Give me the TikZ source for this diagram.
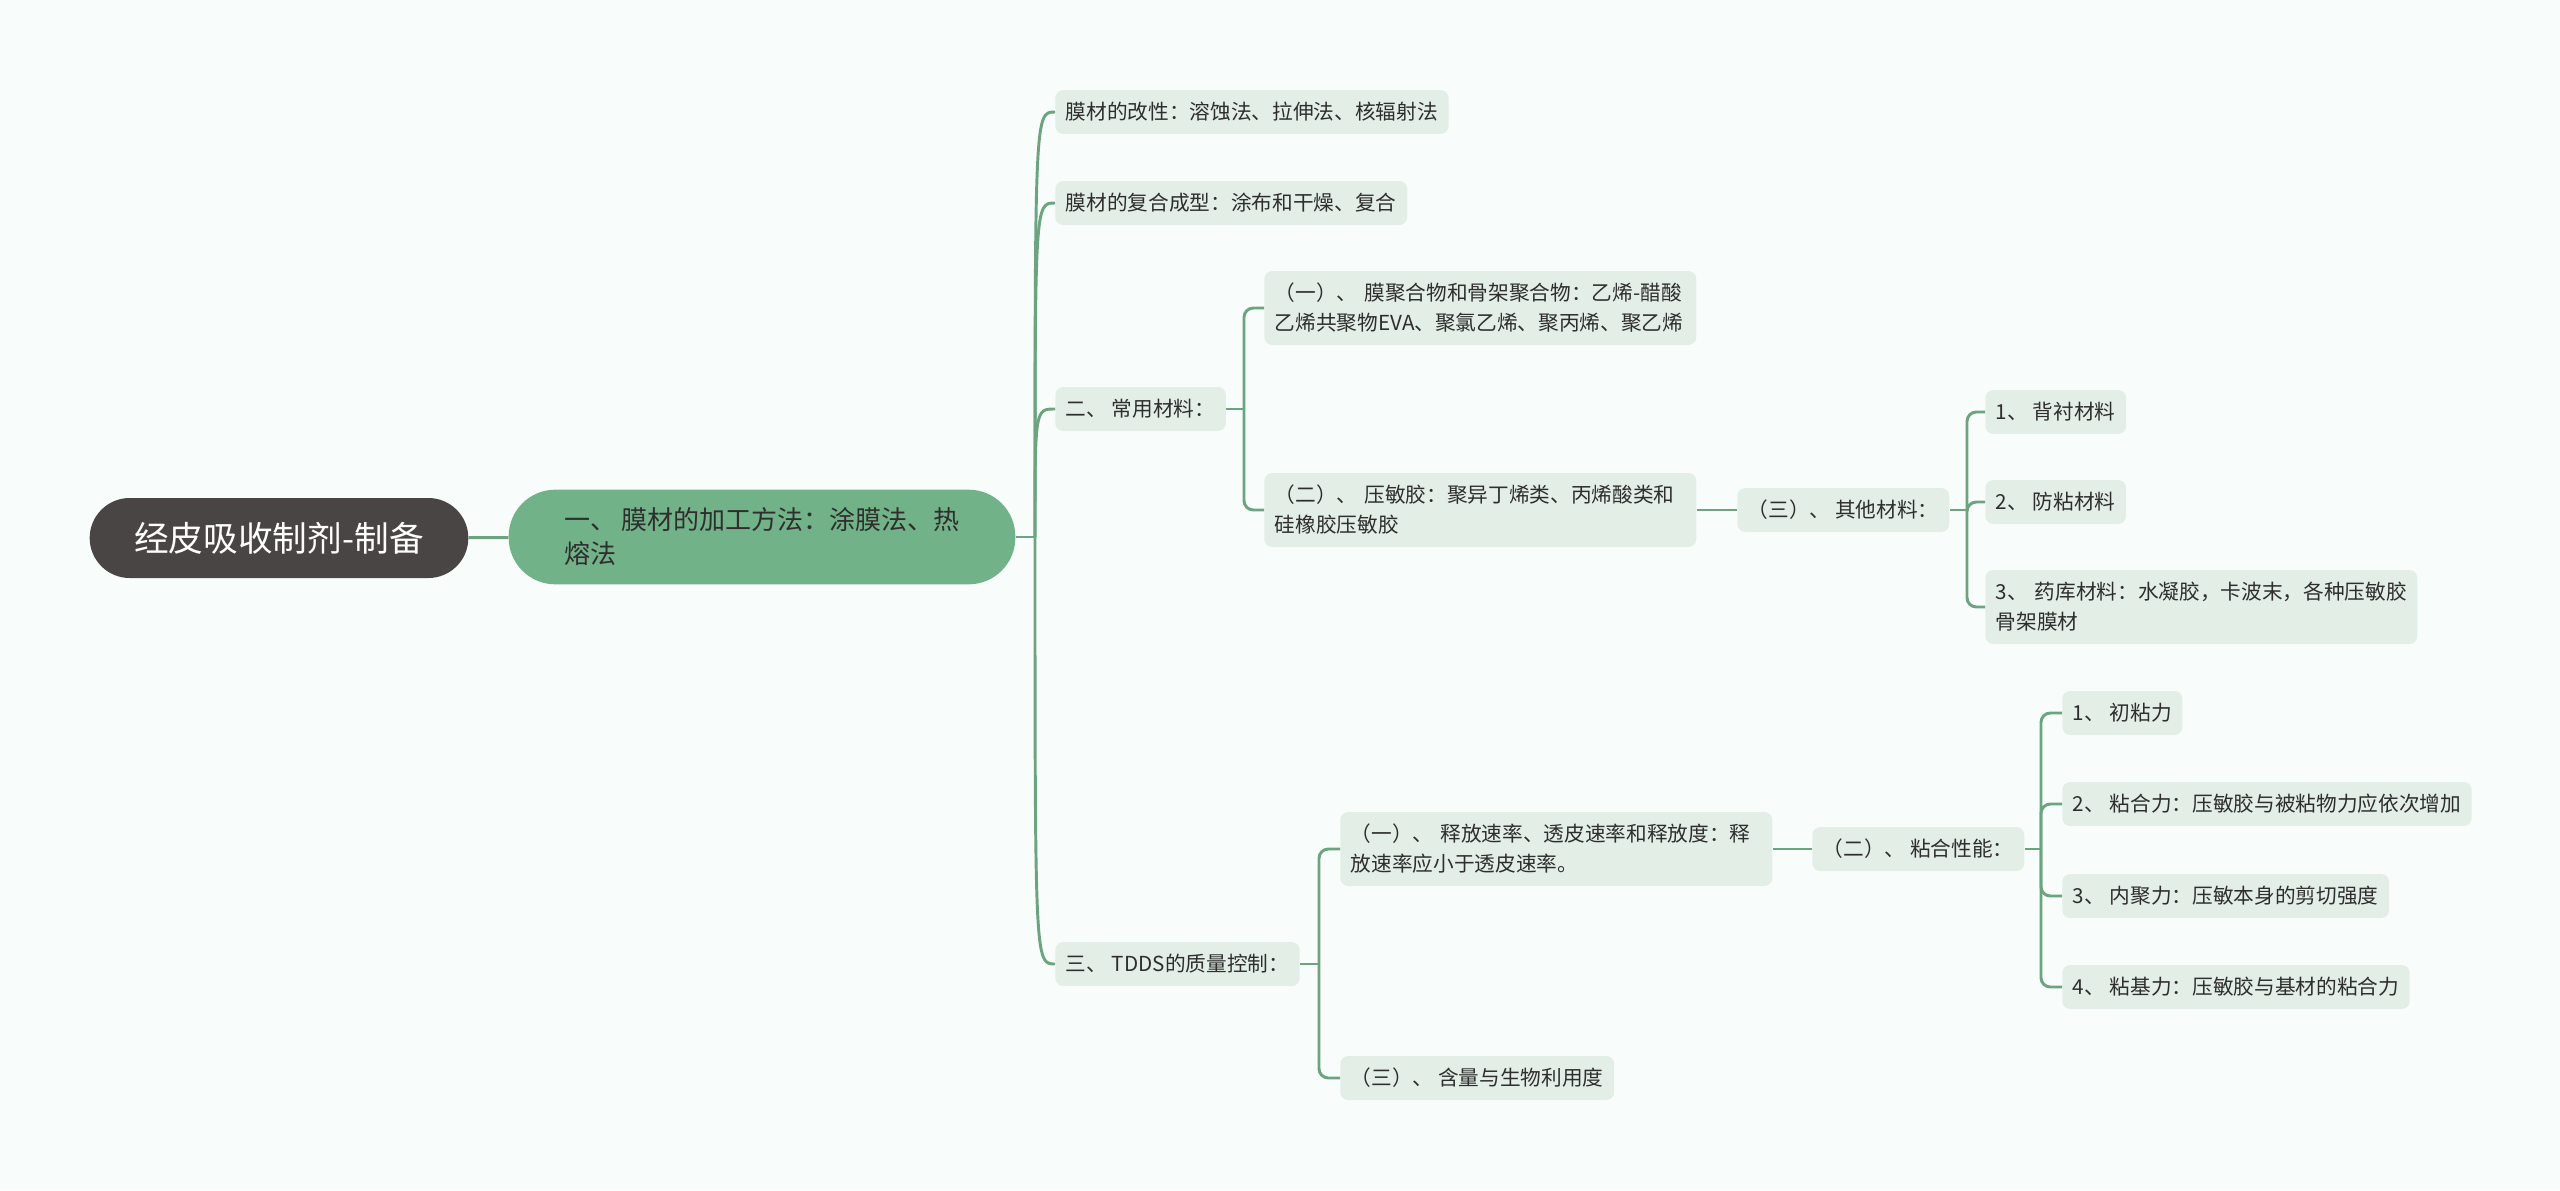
\documentclass[tikz,border=0pt]{standalone}
\usepackage{fontspec}
\setmainfont{Noto Sans CJK SC}
\usetikzlibrary{calc}

\definecolor{bgcol}{HTML}{F8FDFC}
\definecolor{rootgray}{HTML}{4A4545}
\definecolor{maingreen}{HTML}{72B288}
\definecolor{linkgreen}{HTML}{6CA47F}
\definecolor{leafgray}{HTML}{E3EEE6}
\definecolor{inkdark}{HTML}{2E2E2E}

\tikzset{
  link/.style={draw=linkgreen, line width=2.2pt},
  leaf/.style={anchor=west, fill=leafgray, rounded corners=6pt, text=inkdark,
    inner xsep=8pt, inner ysep=0pt, minimum height=33pt, align=left,
    font=\fontsize{15.5}{22.5}\selectfont},
  leafii/.style={leaf, minimum height=55.5pt, text width=308pt},
}

\begin{document}
\begin{tikzpicture}[x=0.75pt,y=0.75pt,yscale=-1,xscale=1]
        % background and page size
        \fill[bgcol] (0,0) rectangle (2560,1190);
        \useasboundingbox (0,0) rectangle (2560,1190);

        % Root and first level
        \node[fill=rootgray, text=white, rounded corners=30pt, minimum width=284pt, minimum height=60pt,
          font=\fontsize{26}{30}\selectfont] (root) at (279,538) {经皮吸收制剂-制备};
        \node[fill=maingreen, text=inkdark, rounded corners=35pt, minimum width=380pt, minimum height=71pt,
          inner xsep=36pt, align=left, font=\fontsize{19.5}{25.5}\selectfont] (method) at (762,537)
          {一、 膜材的加工方法：涂膜法、热\\熔法};

        % Second level
        \node[leaf] (modify) at (1055,112) {膜材的改性：溶蚀法、拉伸法、核辐射法};
        \node[leaf] (compound) at (1055,203) {膜材的复合成型：涂布和干燥、复合};
        \node[leaf] (material) at (1055,409) {二、 常用材料：};
        \node[leaf] (quality) at (1055,964) {三、 TDDS的质量控制：};

        % Common materials
        \node[leafii] (polymer) at (1264,308) {（一）、 膜聚合物和骨架聚合物：乙烯-醋酸\\乙烯共聚物EVA、聚氯乙烯、聚丙烯、聚乙烯};
        \node[leafii] (psa) at (1264,510) {（二）、 压敏胶：聚异丁烯类、丙烯酸类和\\硅橡胶压敏胶};
        \node[leaf] (other) at (1737,510) {（三）、 其他材料：};
        \node[leaf] (backing) at (1985,412) {1、 背衬材料};
        \node[leaf] (liner) at (1985,502) {2、 防粘材料};
        \node[leafii] (reservoir) at (1985,607) {3、 药库材料：水凝胶，卡波末，各种压敏胶\\骨架膜材};

        % Quality control
        \node[leafii] (release) at (1340,849) {（一）、 释放速率、透皮速率和释放度：释\\放速率应小于透皮速率。};
        \node[leaf] (content) at (1340,1078) {（三）、 含量与生物利用度};
        \node[leaf] (adhesion) at (1812,849) {（二）、 粘合性能：};
        \node[leaf] (tack) at (2062,713) {1、 初粘力};
        \node[leaf] (peel) at (2062,804) {2、 粘合力：压敏胶与被粘物力应依次增加};
        \node[leaf] (cohesion) at (2062,896) {3、 内聚力：压敏本身的剪切强度};
        \node[leaf] (shear) at (2062,987) {4、 粘基力：压敏胶与基材的粘合力};

        % Connectors
        \coordinate (hubM) at (1035,537);
        \coordinate (hubA) at (1244,409);
        \coordinate (hubB) at (1967,510);
        \coordinate (hubC) at (1319,964);
        \coordinate (hubD) at (2041,849);

        \draw[link] (root) -- (method);
        \draw[link] (method.east) -- (hubM);
        \foreach \c in {modify,compound,material,quality}
          \draw[link] (hubM) .. controls (hubM |- \c.west) .. (\c.west);

        \draw[link] (material.east) -- (hubA);
        \foreach \c in {polymer,psa}
          \draw[link, rounded corners=7pt] (hubA) |- (\c.west);

        \draw[link] (psa.east) -- (other.west);
        \draw[link] (other.east) -- (hubB);
        \foreach \c in {backing,liner,reservoir}
          \draw[link, rounded corners=7pt] (hubB) |- (\c.west);

        \draw[link] (quality.east) -- (hubC);
        \foreach \c in {release,content}
          \draw[link, rounded corners=7pt] (hubC) |- (\c.west);

        \draw[link] (release.east) -- (adhesion.west);
        \draw[link] (adhesion.east) -- (hubD);
        \foreach \c in {tack,peel,cohesion,shear}
          \draw[link, rounded corners=7pt] (hubD) |- (\c.west);

\end{tikzpicture}
\end{document}
